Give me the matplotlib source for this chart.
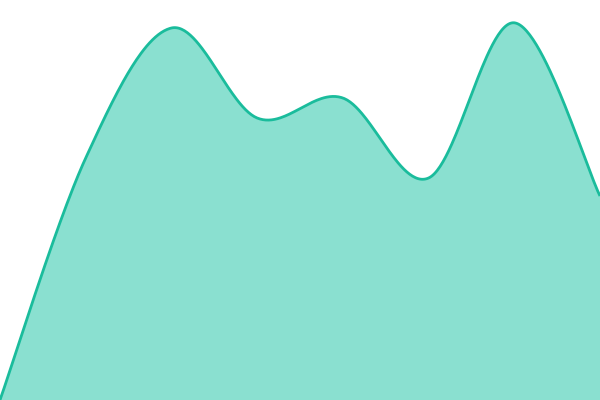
import numpy as np
import matplotlib
matplotlib.use("Agg")
import matplotlib.pyplot as plt

# data
x_idx = [0, 1, 2, 3, 4, 5, 6, 7]
values = [0, 60.5, 93, 70.5, 75.5, 55.5, 94.3, 51]

line_color = "#1abc9c"
fill_color = "#8ae0d0"


def catmull_rom(xs, ys, n=60):
    xs = np.asarray(xs, float)
    ys = np.asarray(ys, float)
    m = len(xs)
    tx = np.zeros(m)
    ty = np.zeros(m)
    for i in range(m):
        a = max(i - 1, 0)
        b = min(i + 1, m - 1)
        tx[i] = (xs[b] - xs[a]) / 2
        ty[i] = (ys[b] - ys[a]) / 2
    outx, outy = [], []
    t = np.linspace(0, 1, n)
    h00 = 2 * t**3 - 3 * t**2 + 1
    h10 = t**3 - 2 * t**2 + t
    h01 = -2 * t**3 + 3 * t**2
    h11 = t**3 - t**2
    for i in range(m - 1):
        px = h00 * xs[i] + h10 * tx[i] + h01 * xs[i + 1] + h11 * tx[i + 1]
        py = h00 * ys[i] + h10 * ty[i] + h01 * ys[i + 1] + h11 * ty[i + 1]
        outx.extend(px[:-1] if i < m - 2 else px)
        outy.extend(py[:-1] if i < m - 2 else py)
    return np.array(outx), np.array(outy)


sx, sy = catmull_rom(x_idx, values)

fig = plt.figure(figsize=(6, 4), dpi=100)
ax = fig.add_axes([0, 0, 1, 1])
ax.fill_between(sx, sy, 0, color=fill_color, linewidth=0)
ax.plot(sx, sy, color=line_color, linewidth=2.0, solid_capstyle="butt")
ax.set_xlim(x_idx[0], x_idx[-1])
ax.set_ylim(0, 100)
ax.axis("off")
fig.savefig("out.png", dpi=100)
